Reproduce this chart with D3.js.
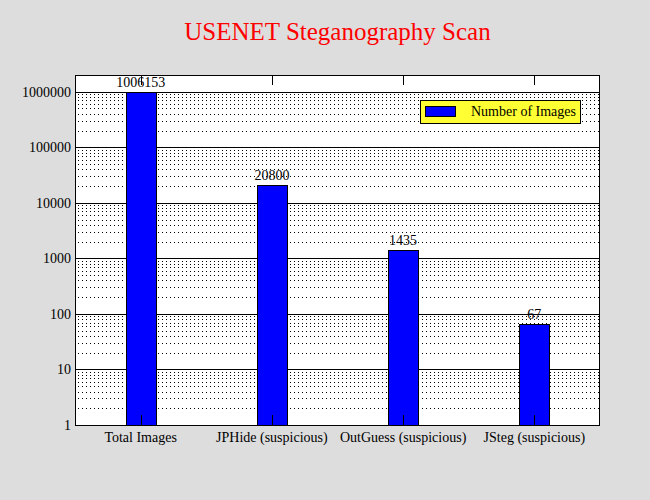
<!DOCTYPE html>
<html><head><meta charset="utf-8">
<script src="https://cdn.jsdelivr.net/npm/d3@7"></script>
<style>body{margin:0;background:#dddddd;} text{font-family:"Liberation Serif","Times New Roman",serif;}</style>
</head><body>
<svg id="c" width="650" height="500"></svg>
<script>
const categories = ["Total Images", "JPHide (suspicious)", "OutGuess (suspicious)", "JSteg (suspicious)"];
const values = [1006153, 20800, 1435, 67];
const yTicks = [1, 10, 100, 1000, 10000, 100000, 1000000];
const seriesName = "Number of Images";
const title = "USENET Steganography Scan";

const svg = d3.select("#c");
const L = 75, R = 600, T = 75, B = 425;
svg.append("rect").attr("width", 650).attr("height", 500).attr("fill", "#dddddd");
svg.append("rect").attr("x", L).attr("y", T).attr("width", R - L).attr("height", B - T).attr("fill", "#ffffff");

const x = d3.scaleBand().domain(categories).range([L, R]).paddingInner(0.771).paddingOuter(0.3857);
const y = d3.scaleLog().domain([1, 2e6]).range([B, T]);

// minor grid
const minor = [];
for (let d = 0; d < 6; d++) for (let k = 2; k <= 9; k++) minor.push(k * Math.pow(10, d));
svg.append("g").selectAll("line").data(minor).join("line")
  .attr("x1", L + 3).attr("x2", R)
  .attr("y1", d => Math.round(y(d)) + 0.5).attr("y2", d => Math.round(y(d)) + 0.5)
  .attr("stroke", "#000").attr("stroke-width", 1).attr("stroke-dasharray", "1,3")
  .attr("shape-rendering", "crispEdges");
// major grid
svg.append("g").selectAll("line").data(yTicks.slice(1)).join("line")
  .attr("x1", L).attr("x2", R)
  .attr("y1", d => Math.round(y(d)) + 0.5).attr("y2", d => Math.round(y(d)) + 0.5)
  .attr("stroke", "#000").attr("stroke-width", 1).attr("shape-rendering", "crispEdges");

// bars
svg.append("g").selectAll("rect").data(values).join("rect")
  .attr("x", (d, i) => Math.round(x(categories[i])) + 0.5)
  .attr("width", Math.round(x.bandwidth()))
  .attr("y", d => Math.round(y(d)) + 0.5)
  .attr("height", d => B - Math.round(y(d)))
  .attr("fill", "#0000ff").attr("stroke", "#000").attr("stroke-width", 1)
  .attr("shape-rendering", "crispEdges");

// x ticks (bottom and top, inward)
const cx = c => Math.round(x(c) + x.bandwidth() / 2) + 0.5;
svg.append("g").selectAll("line").data(categories).join("line")
  .attr("x1", cx).attr("x2", cx).attr("y1", B).attr("y2", B - 10)
  .attr("stroke", "#000").attr("shape-rendering", "crispEdges");
svg.append("g").selectAll("line").data(categories).join("line")
  .attr("x1", cx).attr("x2", cx).attr("y1", T).attr("y2", T + 10)
  .attr("stroke", "#000").attr("shape-rendering", "crispEdges");

// border
svg.append("rect").attr("x", L + 0.5).attr("y", T + 0.5).attr("width", R - L - 1).attr("height", B - T)
  .attr("fill", "none").attr("stroke", "#000").attr("stroke-width", 1).attr("shape-rendering", "crispEdges");

// y tick labels
svg.append("g").selectAll("text").data(yTicks).join("text")
  .attr("x", L - 4).attr("y", d => y(d)).attr("dy", "0.35em")
  .attr("text-anchor", "end").attr("font-size", 14).text(d => d);

// x labels
svg.append("g").selectAll("text").data(categories).join("text")
  .attr("x", c => x(c) + x.bandwidth() / 2).attr("y", 442)
  .attr("text-anchor", "middle").attr("font-size", 14).text(c => c);

// value labels
svg.append("g").selectAll("text").data(values).join("text")
  .attr("x", (d, i) => x(categories[i]) + x.bandwidth() / 2).attr("y", d => y(d) - 5)
  .attr("text-anchor", "middle").attr("font-size", 14).text(d => d);

// title
svg.append("text").attr("x", (L + R) / 2).attr("y", 40).attr("text-anchor", "middle")
  .attr("font-size", 25).attr("fill", "#ff0000").text(title);

// legend
const lg = svg.append("g");
lg.append("rect").attr("x", 420.5).attr("y", 100.5).attr("width", 160).attr("height", 23)
  .attr("fill", "#ffff33").attr("stroke", "#000").attr("shape-rendering", "crispEdges");
lg.append("rect").attr("x", 425.5).attr("y", 106.5).attr("width", 30).attr("height", 10)
  .attr("fill", "#0000ff").attr("stroke", "#000").attr("shape-rendering", "crispEdges");
lg.append("text").attr("x", 471).attr("y", 116).attr("font-size", 14).text(seriesName);
</script>
</body></html>
